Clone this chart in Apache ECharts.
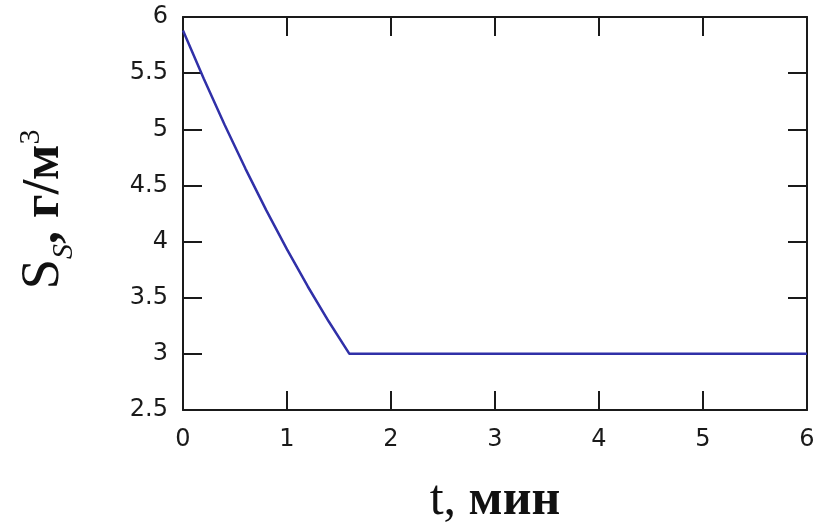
<!DOCTYPE html>
<html><head><meta charset="utf-8">
<script src="https://cdn.jsdelivr.net/npm/echarts@6/dist/echarts.min.js"></script>
<style>html,body{margin:0;padding:0;background:#fff}#c{width:818px;height:527px}</style>
</head><body><div id="c"></div>
<script>
const tValues = [0, 0.2, 0.4, 0.6, 0.8, 1.0, 1.2, 1.4, 1.6, 2, 3, 4, 5, 6];
const sValues = [5.88, 5.45, 5.04, 4.65, 4.28, 3.93, 3.60, 3.29, 3.0, 3.0, 3.0, 3.0, 3.0, 3.0];
const xTicks = [0, 1, 2, 3, 4, 5, 6];
const yTicks = [2.5, 3, 3.5, 4, 4.5, 5, 5.5, 6];

const chart = echarts.init(document.getElementById('c'));
const mkLine = () => ({show: true, onZero: false, lineStyle: {color: '#1a1a1a', width: 2}});
const mkTick = () => ({show: true, inside: true, length: 19, lineStyle: {color: '#1a1a1a', width: 2}});
const lblFont = {fontFamily: 'DejaVu Sans', fontSize: 24, color: '#1a1a1a'};
chart.setOption({
  animation: false,
  backgroundColor: '#fff',
  grid: {left: 183, top: 17, right: 11, bottom: 117, containLabel: false, outerBoundsMode: 'none'},
  xAxis: [{
    type: 'value', min: xTicks[0], max: xTicks[xTicks.length-1], interval: 1,
    axisLine: mkLine(), axisTick: mkTick(), splitLine: {show: false},
    axisLabel: Object.assign({margin: 18}, lblFont),
    name: '{t|t, }{m|мин}', nameLocation: 'middle', nameGap: 66,
    nameTextStyle: {
      rich: {
        t: {fontFamily: 'Liberation Serif', fontSize: 50, color: '#111'},
        m: {fontFamily: 'Liberation Serif', fontWeight: 'bold', fontSize: 50, color: '#111'}
      }
    }
  }, {
    type: 'value', position: 'top', min: xTicks[0], max: xTicks[xTicks.length-1], interval: 1,
    axisLine: mkLine(), axisTick: mkTick(), axisLabel: {show: false}, splitLine: {show: false}
  }],
  yAxis: [{
    type: 'value', min: yTicks[0], max: yTicks[yTicks.length-1], interval: 0.5,
    axisLine: mkLine(), axisTick: mkTick(), splitLine: {show: false},
    axisLabel: Object.assign({margin: 15}, lblFont),
    name: '{a|S}{s|S}{b|, г/м}{p|3}', nameLocation: 'middle', nameRotate: 90, nameGap: 112,
    nameTextStyle: {
      padding: [0, 0, 0, 8],
      rich: {
        a: {fontFamily: 'Liberation Serif', fontSize: 55, color: '#111', verticalAlign: 'bottom'},
        b: {fontFamily: 'Liberation Serif', fontWeight: 'bold', fontSize: 52, color: '#111', verticalAlign: 'bottom'},
        s: {fontFamily: 'Liberation Serif', fontSize: 30, fontStyle: 'italic', color: '#111', verticalAlign: 'bottom', padding: [0,0,-8,0]},
        p: {fontFamily: 'Liberation Serif', fontSize: 30, color: '#111', verticalAlign: 'top'}
      }
    }
  }, {
    type: 'value', position: 'right', min: yTicks[0], max: yTicks[yTicks.length-1], interval: 0.5,
    axisLine: mkLine(), axisTick: mkTick(), axisLabel: {show: false}, splitLine: {show: false}
  }],
  series: [{
    type: 'line', showSymbol: false, smooth: false,
    data: tValues.map((t, i) => [t, sValues[i]]),
    lineStyle: {color: '#3030a8', width: 2.5}
  }]
});
</script></body></html>
